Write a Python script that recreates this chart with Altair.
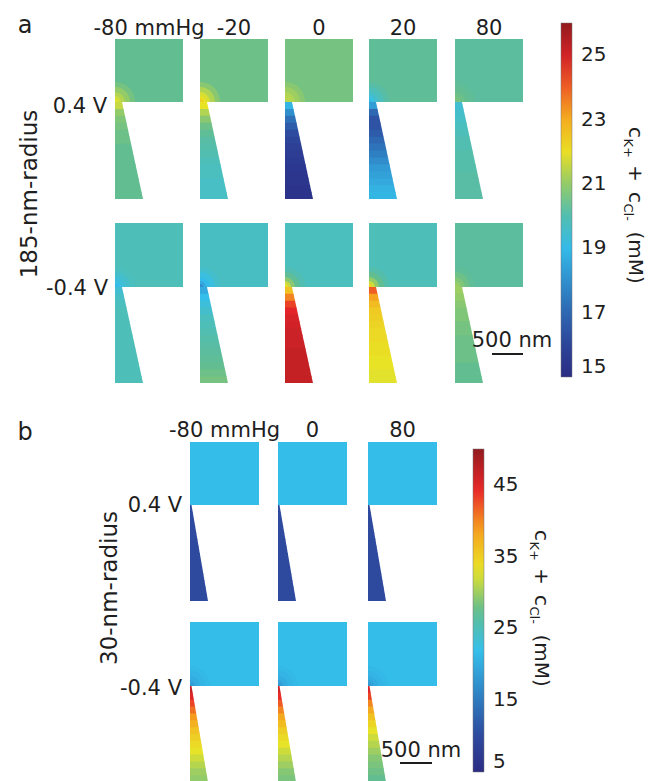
import math
import altair as alt
import pandas as pd

# ------------------------------------------------------------------ data
pressures_a = ["-80 mmHg", "-20", "0", "20", "80"]
pressures_b = ["-80 mmHg", "0", "80"]
voltages = ["0.4 V", "-0.4 V"]

# panel a (185-nm radius): c_K+ + c_Cl- (mM), rows = voltages, cols = pressures
a_bath = [[20.5, 20.6, 20.7, 20.4, 20.3],
          [19.9, 19.75, 19.8, 19.9, 20.3]]
# concentration around the pipette opening (outer ring -> inner ring)
a_tip = [[[20.7, 21.0, 21.3, 21.6, 21.8], [20.9, 21.3, 21.7, 22.0, 22.3], [20.9, 21.1, 21.3, 21.4, 21.3],
          [20.2, 19.9, 19.6, 19.3, 19.0], [20.4, 20.5, 20.6, 20.7, 20.7]],
         [[19.8, 19.6, 19.4, 19.2, 19.0], [19.6, 19.3, 19.0, 18.6, 18.0], [20.0, 20.4, 20.9, 21.5, 22.0],
          [20.1, 20.5, 21.0, 21.6, 22.2], [20.4, 20.6, 20.8, 21.0, 21.1]]]
# inside the pipette, from the opening (top) to the back (bottom)
a_wedge = [
    [[21.5, 21.0, 20.8, 20.7, 20.6, 20.6, 20.5, 20.5, 20.5, 20.5, 20.5, 20.5, 20.5, 20.5],
     [21.9, 21.3, 20.9, 20.6, 20.4, 20.2, 20.1, 20.0, 19.9, 19.8, 19.8, 19.7, 19.7, 19.7],
     [18.9, 18.0, 17.2, 16.7, 16.3, 16.0, 15.8, 15.7, 15.6, 15.5, 15.4, 15.4, 15.3, 15.3],
     [18.3, 17.0, 16.5, 16.5, 16.7, 17.0, 17.3, 17.6, 17.9, 18.2, 18.4, 18.6, 18.8, 18.9],
     [19.5, 19.6, 19.7, 19.8, 19.9, 20.0, 20.0, 20.1, 20.1, 20.1, 20.2, 20.2, 20.2, 20.2]],
    [[19.5, 19.7, 19.8, 19.9, 19.9, 19.9, 19.9, 19.9, 19.9, 19.9, 19.9, 19.9, 19.9, 19.9],
     [18.6, 19.1, 19.4, 19.6, 19.8, 19.9, 20.0, 20.1, 20.2, 20.3, 20.4, 20.5, 20.6, 20.7],
     [22.6, 23.6, 24.3, 24.7, 24.9, 25.0, 25.1, 25.1, 25.1, 25.2, 25.2, 25.2, 25.2, 25.2],
     [24.0, 23.2, 22.7, 22.4, 22.3, 22.2, 22.1, 22.1, 22.0, 22.0, 21.9, 21.9, 21.8, 21.8],
     [21.1, 21.0, 20.9, 20.8, 20.8, 20.7, 20.7, 20.6, 20.6, 20.6, 20.6, 20.5, 20.5, 20.5]],
]

# panel b (30-nm radius)
b_bath = [[21.7, 21.7, 21.7],
          [21.7, 21.7, 21.7]]
b_tip = [[[21.7] * 5, [21.7] * 5, [21.7] * 5],
         [[21.3, 20.8, 20.0, 19.0, 18.0], [21.3, 20.8, 20.0, 19.0, 18.0], [21.3, 20.8, 20.0, 19.0, 18.0]]]
b_wedge = [
    [[10.0] * 14, [10.0] * 14, [10.0] * 14],
    [[47, 45, 43, 41, 39, 37.5, 36, 35, 34, 33, 32, 31, 30, 29.5],
     [46, 44, 42, 40, 38, 36.5, 35, 34, 33, 32, 31, 30, 29, 28.5],
     [45, 43, 40, 38, 36, 34.5, 33, 32, 31, 30, 29, 28.5, 28, 27.5]],
]

a_ticks = [15, 17, 19, 21, 23, 25]
b_ticks = [5, 15, 25, 35, 45]
a_range = [15, 26]
b_range = [5, 50]

# ------------------------------------------------------------------ layout (pixels)
A_X = [115, 200, 285, 369, 455]
A_W = 68
A_ROWS = [(39, 102, 199), (223, 287, 383)]   # rect top, rect bottom / pipette top, pipette end
A_TW, A_BW = 7, 28
B_X = [190, 278, 368]
B_W = 69
B_ROWS = [(442, 505, 601), (622, 686, 782)]
B_TW, B_BW = 1.5, 18
RINGS = [20, 15, 10, 6, 3]

JET = ['#2b2c84', '#2e4ea1', '#2f86c7', '#35bfeb', '#62bd90',
       '#e9e426', '#f6a11f', '#e8262a', '#921b1e']
FONT = 'DejaVu Sans'
INK = '#1e1e1e'


def build(xs, w, rows, tw, bw, bath, tip, wedge, tag):
    bodies, spots, strips = [], [], []
    for r, (yt, yb, ye) in enumerate(rows):
        for c, xl in enumerate(xs):
            bodies.append(dict(x=xl, x2=xl + w, y=yt, y2=yb, v=bath[r][c]))
            for rad, val in zip(RINGS, tip[r][c]):
                spots.append(dict(x=xl, y=yb, r=rad, v=val))
            vals = wedge[r][c]
            n = len(vals)
            for i, val in enumerate(vals):
                ya = yb + (ye - yb) * i / n
                yz = min(yb + (ye - yb) * (i + 1) / n + 0.8, ye)
                wa = tw + (bw - tw) * (ya - yb) / (ye - yb)
                wz = tw + (bw - tw) * (yz - yb) / (ye - yb)
                sid = f"{tag}{r}{c}-{i:02d}"
                strips.append(dict(sid=sid, y=ya, x=xl, x2=xl + wa, v=val))
                strips.append(dict(sid=sid, y=yz, x=xl, x2=xl + wz, v=val))
    return pd.DataFrame(bodies), pd.DataFrame(spots), pd.DataFrame(strips)


XS = alt.Scale(domain=[0, 648], nice=False, zero=False)
YS = alt.Scale(domain=[0, 781], nice=False, zero=False, reverse=True)


def panel(xs, w, rows, tw, bw, bath, tip, wedge, tag, dom, ticks, lx, ly, llen):
    bodies, spots, strips = build(xs, w, rows, tw, bw, bath, tip, wedge, tag)
    cs = alt.Scale(domain=dom, range=JET, interpolate='rgb', clamp=True)
    leg = alt.Legend(orient='none', legendX=lx, legendY=ly, direction='vertical',
                     gradientLength=llen, gradientThickness=11, title=None,
                     values=ticks, labelFont=FONT, labelFontSize=20, labelColor=INK,
                     labelOffset=9, labelBaseline='middle', gradientStrokeColor='#777',
                     gradientStrokeWidth=0.5, padding=0)
    col = alt.Color('v:Q', scale=cs, legend=leg)
    l1 = alt.Chart(bodies).mark_rect().encode(
        x=alt.X('x:Q', scale=XS, axis=None), x2='x2:Q',
        y=alt.Y('y:Q', scale=YS, axis=None), y2='y2:Q', color=col)
    l2 = alt.Chart(spots).mark_arc(theta=0, theta2=math.pi / 2).encode(
        x=alt.X('x:Q', scale=XS, axis=None), y=alt.Y('y:Q', scale=YS, axis=None),
        radius=alt.Radius('r:Q', scale=None, stack=None), color=col)
    l3 = alt.Chart(strips).mark_area(orient='horizontal').encode(
        y=alt.Y('y:Q', scale=YS, axis=None),
        x=alt.X('x:Q', scale=XS, axis=None, stack=None), x2='x2:Q',
        detail='sid:N', color=col)
    return alt.layer(l1, l2, l3)


pa = panel(A_X, A_W, A_ROWS, A_TW, A_BW, a_bath, a_tip, a_wedge, 'a', a_range, a_ticks, 561, 23, 354)
pb = panel(B_X, B_W, B_ROWS, B_TW, B_BW, b_bath, b_tip, b_wedge, 'b', b_range, b_ticks, 473, 449, 323)

# ------------------------------------------------------------------ text
labels = []
for xl, p in zip(A_X, pressures_a):
    labels.append(dict(x=xl + A_W / 2, y=35, t=p, s=21, a=0))
for xl, p in zip(B_X, pressures_b):
    labels.append(dict(x=xl + B_W / 2, y=437, t=p, s=21, a=0))
labels += [
    dict(x=25, y=33, t='a', s=24, a=0),
    dict(x=25, y=440, t='b', s=24, a=0),
    dict(x=80, y=113, t=voltages[0], s=21, a=0),
    dict(x=77, y=295, t=voltages[1], s=21, a=0),
    dict(x=155, y=512, t=voltages[0], s=21, a=0),
    dict(x=151, y=695, t=voltages[1], s=21, a=0),
    dict(x=37, y=194, t='185-nm-radius', s=23, a=270),
    dict(x=117, y=588, t='30-nm-radius', s=23, a=270),
    dict(x=512, y=347, t='500 nm', s=21, a=0),
    dict(x=421, y=757, t='500 nm', s=21, a=0),
]
texts = alt.Chart(pd.DataFrame(labels)).mark_text(
    font=FONT, align='center', baseline='alphabetic', color=INK).encode(
    x=alt.X('x:Q', scale=XS, axis=None), y=alt.Y('y:Q', scale=YS, axis=None),
    text='t:N', size=alt.Size('s:Q', scale=None), angle=alt.Angle('a:Q', scale=None))

# colour-bar titles  c_K+ + c_Cl- (mM), written top to bottom
pieces = [('c', 20, 0, 11.5), ('K+', 13, -5, 20.5), ('+', 20, 0, 21.0),
          ('c', 20, 0, 11.5), ('Cl-', 13, -5, 22.0), ('(mM)', 20, 0, 52.0)]
ttl = []
for bx, by in [(629, 127), (535, 530)]:
    yy = by
    for t, s, dx, w in pieces:
        ttl.append(dict(x=bx + dx, y=yy, t=t, s=s))
        yy += w + (6 if t in ('K+', '+', 'Cl-') else 0)
titles = alt.Chart(pd.DataFrame(ttl)).mark_text(
    font=FONT, align='left', baseline='alphabetic', angle=90, color=INK).encode(
    x=alt.X('x:Q', scale=XS, axis=None), y=alt.Y('y:Q', scale=YS, axis=None),
    text='t:N', size=alt.Size('s:Q', scale=None))

bars = alt.Chart(pd.DataFrame([dict(x=492, x2=523, y=354), dict(x=400, x2=432, y=763)])).mark_rule(
    strokeWidth=2, color=INK).encode(
    x=alt.X('x:Q', scale=XS, axis=None), x2='x2:Q', y=alt.Y('y:Q', scale=YS, axis=None))

chart = alt.layer(pa, pb, texts, titles, bars).resolve_scale(color='independent').properties(
    width=648, height=781, padding=0, autosize=alt.AutoSizeParams(type='none'),
    background='white'
).configure_view(stroke=None)

chart.save("out.html", embed_options={"renderer": "svg", "actions": False})
